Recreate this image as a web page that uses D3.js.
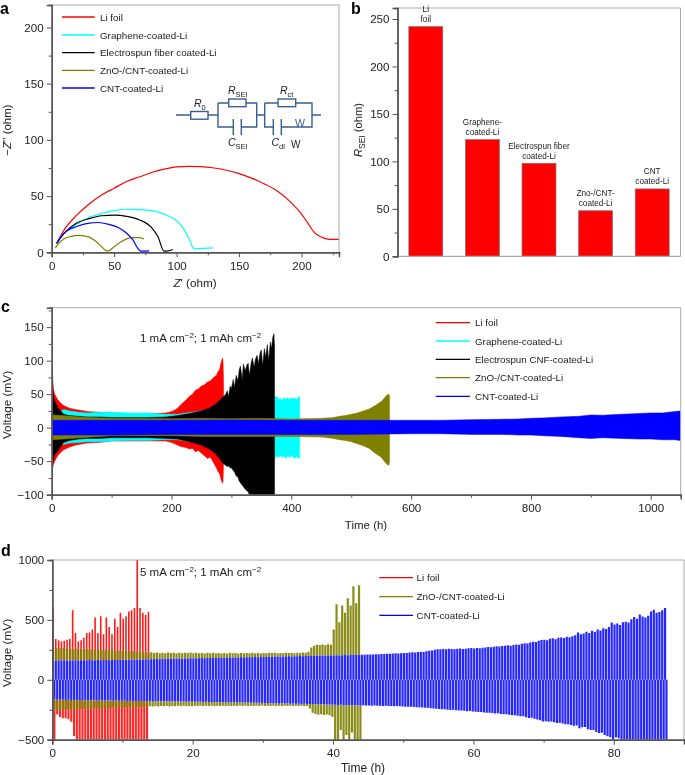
<!DOCTYPE html>
<html><head><meta charset="utf-8">
<script src="https://cdn.jsdelivr.net/npm/d3@7/dist/d3.min.js"></script>
<style>
html,body{margin:0;padding:0;background:#fff;}
svg{display:block;filter:blur(0.3px);}
text{font-family:"Liberation Sans",Arial,sans-serif;fill:#222;}
</style></head><body>
<svg id="chart" width="685" height="775"></svg>
<script>
// ---------- panel a: Nyquist curves [Z', -Z''] ----------
const liFoilZ=[[4,8],[10,20],[20,33],[30,43],[40,51],[50,57],[60,63],[70,67],[80,71],[90,74],[100,76],[110,76.5],[120,76.3],[130,75],[140,73],[150,70],[160,66],[170,61],[180,55],[190,46],[200,34],[205,26],[210,18],[215,14],[220,12],[225,11.5],[230,11.5]];
const grapheneZ=[[4,8],[10,17],[20,25],[30,31],[40,34.5],[50,37],[60,38.3],[70,38],[80,37],[90,34],[100,28],[105,22],[110,12],[114,3],[120,3.5],[129,4]];
const fiberZ=[[4,8],[10,17],[20,26],[30,30],[40,32.5],[50,33],[60,32],[70,29],[80,22],[85,14],[90,1],[92,1],[97,2.5]];
const znoZ=[[3,4],[5,7],[10,12],[15,14],[22,15],[30,13.5],[35,10],[40,5],[44,1.3],[46,1.5],[50,5],[55,9],[60,12],[65,13],[70,13],[74,11.8]];
const cntZ=[[4,8],[10,17],[20,23],[30,26],[37,26.5],[45,25],[55,21],[60,17],[65,11],[70,2],[71.5,1],[78,1.2]];
const legendA=["Li foil","Graphene-coated-Li","Electrospun fiber coated-Li","ZnO-/CNT-coated-Li","CNT-coated-Li"];
// ---------- panel b ----------
const barLabels=[["Li","foil"],["Graphene-","coated-Li"],["Electrospun fiber","coated-Li"],["Zno-/CNT-","coated-Li"],["CNT","coated-Li"]];
const barValues=[242,123,98,48,71];
// ---------- panel c: voltage envelopes ----------
const liTimeC=[0,1,3,5,10,15,20,30,40,60,80,100,130,150,170,190,200,205,210,215,220,225,230,235,240,245,250,255,260,265,270,275,278,280,283,285,286,287];
const liUpC=[60,82,58,50,42,37,33,29,27,24,23,22,21,20,21,22,24,26,29,34,38,42,47,50,56,58,62,64,68,70,75,78,84,86,98,104,100,60];
const liLowC=[-45,-62,-55,-50,-42,-37,-33,-29,-26,-23,-22,-20,-20,-20,-20,-20,-22,-24,-26,-28,-29,-30,-32,-31,-36,-34,-38,-42,-46,-44,-52,-60,-66,-68,-78,-83,-80,-50];
const graTimeC=[15,20,30,45,60,80,100,130,160,190,210,372,373,376,379,382,385,388,391,394,397,400,403,406,409,412,414];
const graUpC=[24,27,25,23,22,23,23,22,22,20,20,40,46,46,42,44,41,45,42,45,42,45,43,44,42,46,46];
const graLowC=[-24,-25,-23,-22,-21,-21,-20,-19,-19,-18,-18,-40,-46,-42,-45,-41,-44,-43,-46,-42,-45,-41,-44,-46,-43,-46,-45];
const fibTimeC=[0,1,3,5,10,15,20,30,45,60,80,100,130,160,190,210,230,250,265,275,285,290,293,295,298,300,303,305,308,311,313,315,318,320,323,326,328,330,333,335,338,340,343,345,348,350,352,355,357,360,362,365,367,369,371,372];
const fibUpC=[40,65,46,40,30,25,20,18,17,16,16,15,15,15,16,18,21,25,30,36,45,49,55,46,62,58,72,60,78,70,86,92,72,95,85,94,96,78,97,104,90,102,108,95,112,116,92,118,105,124,100,128,118,135,140,120];
const fibLowC=[-30,-56,-46,-40,-35,-28,-22,-19,-17,-16,-16,-15,-15,-15,-16,-17,-21,-26,-33,-40,-52,-56,-58,-57,-60,-60,-64,-66,-72,-74,-80,-82,-86,-88,-92,-94,-96,-100,-100,-100,-100,-100,-100,-100,-100,-100,-100,-100,-100,-100,-100,-100,-100,-100,-100,-100];
const znoTimeC=[0,20,50,100,150,200,250,300,350,400,450,470,480,490,500,510,520,530,540,550,555,560,563,564];
const znoUpC=[19,18,16,14,14,13.5,14,13.5,14,13,14,15,17,18,20,22,25,28,33,39,44,49,50,46];
const znoLowC=[-18,-17,-15,-12,-12,-12,-13,-13,-13,-13,-14,-16,-18,-19,-21,-24,-27,-31,-38,-44,-50,-55,-56,-50];
const cntTimeC=[0,100,200,300,400,500,600,650,700,750,780,800,820,850,880,900,920,950,980,1000,1020,1040,1048,1050];
const cntUpC=[11,11,11,11.5,11,11,11,11,12,12.5,13,14,14.5,16,17,19,18.5,20,21,22,22,24,25,24];
const cntLowC=[-11,-11,-10,-10,-10,-10,-9,-9,-10,-10,-11,-11,-12,-13,-15,-16,-15,-16,-17,-17,-18,-18,-19,-18];
const legendC=["Li foil","Graphene-coated-Li","Electrospun CNF-coated-Li","ZnO-/CNT-coated-Li","CNT-coated-Li"];
// ---------- panel d: per-cycle peak voltages (one value per 0.4 h cycle) ----------
const cyclePeriodD=0.4;
const liUpD=[610,340,330,320,325,335,340,580,390,320,330,350,390,395,420,520,390,530,380,520,440,380,510,440,560,510,530,570,580,600,1000,600,560,540,565];
const liLowD=[-500,-290,-310,-320,-320,-330,-350,-470,-500,-500,-500,-500,-500,-500,-500,-500,-500,-500,-500,-500,-500,-500,-500,-500,-500,-500,-500,-500,-500,-500,-500,-500,-500,-500];
const znoUpD=[268,265,268,262,266,260,263,258,262,256,258,255,258,252,254,250,252,248,250,246,248,244,246,242,244,240,241,238,240,235,237,232,234,
228,225,230,224,228,222,226,222,228,224,226,222,225,221,226,223,227,222,225,221,224,220,226,222,225,221,224,220,223,220,225,222,224,220,223,219,224,221,225,222,224,220,223,221,226,223,225,221,224,222,226,223,225,222,226,224,228,225,
235,270,285,292,290,295,288,296,292,420,630,480,620,560,680,620,780,640,790];
const znoLowD=[-255,-250,-255,-248,-252,-246,-250,-244,-248,-243,-246,-240,-244,-238,-242,-236,-240,-235,-238,-233,-236,-232,-234,-230,-232,-229,-231,-227,-229,-225,-227,-223,-224,
-222,-220,-223,-219,-222,-218,-221,-218,-222,-219,-221,-217,-220,-217,-221,-218,-220,-216,-219,-217,-220,-216,-219,-217,-220,-216,-218,-216,-219,-216,-218,-216,-219,-215,-218,-216,-218,-216,-219,-217,-218,-215,-218,-216,-219,-217,-219,-216,-218,-216,-219,-217,-219,-216,-219,-217,-220,-218,
-240,-275,-285,-292,-288,-294,-290,-295,-310,-500,-500,-420,-500,-460,-500,-440,-500,-500,-500];
const cntUpD=[160,161,162,161,163,162,161,163,164,162,163,164,163,165,164,163,165,164,166,165,164,166,165,166,167,
166,167,168,167,169,168,170,169,171,170,172,171,173,172,174,173,175,174,176,175,177,176,178,177,179,
178,180,179,181,180,182,181,183,182,184,183,185,184,186,185,187,186,188,187,189,188,189,190,189,191,
190,192,191,193,192,194,193,195,194,196,195,197,196,198,197,199,198,200,199,201,200,202,201,202,203,
202,204,203,205,206,205,207,208,207,209,210,209,211,212,211,213,214,216,215,217,218,219,221,220,222,
224,223,227,229,228,232,234,233,238,242,245,250,254,256,258,255,260,257,256,259,262,258,260,263,265,
262,266,264,268,270,274,272,276,280,278,282,285,288,284,290,295,293,300,306,303,312,318,315,325,332,
335,330,342,346,338,350,354,348,360,356,364,372,395,380,386,402,390,410,398,420,412,430,425,440,478,
462,470,458,480,485,478,505,525,510,545,528,520,535,570,585,560,565,580,600];
const cntLowD=[-165,-166,-167,-166,-168,-167,-168,-169,-168,-170,-169,-170,-171,-170,-171,-172,-171,-172,-173,-172,-173,-174,-173,-174,-175,
-175,-176,-175,-176,-177,-176,-177,-178,-177,-178,-179,-178,-179,-180,-179,-180,-181,-180,-181,-182,-181,-182,-183,-182,-183,
-184,-183,-184,-185,-184,-185,-186,-185,-186,-187,-186,-187,-188,-187,-188,-189,-188,-189,-190,-189,-190,-191,-192,-192,-193,
-194,-195,-194,-196,-195,-197,-196,-198,-197,-199,-198,-200,-199,-201,-200,-202,-201,-203,-202,-204,-203,-205,-206,-207,-209,
-208,-210,-209,-211,-210,-212,-211,-213,-212,-214,-213,-215,-214,-216,-215,-217,-216,-218,-217,-219,-218,-220,-219,-221,-223,
-224,-226,-225,-228,-230,-229,-232,-234,-233,-237,-239,-241,-244,-246,-245,-249,-252,-251,-255,-257,-256,-259,-262,-261,-265,
-266,-269,-268,-272,-275,-274,-278,-281,-280,-285,-288,-287,-292,-296,-295,-301,-305,-304,-312,-318,-316,-325,-332,-338,-348,
-345,-350,-348,-355,-360,-358,-365,-372,-370,-378,-384,-382,-404,-396,-394,-412,-420,-418,-435,-445,-442,-460,-472,-480,-496,
-480,-488,-500,-500,-500,-500,-500,-500,-500,-500,-500,-500,-500,-500,-500,-500,-500,-500,-500];
const legendD=["Li foil","ZnO-/CNT-coated-Li","CNT-coated-Li"];

const RED="#ff0000",CYAN="#00ffff",BLACK="#000000",OLIVE="#808000",BLUE="#0000ff",INK="#555",FRAME="#aaa",WIRE="#3a5f8f";
const TICKFS=11.6;
const svg=d3.select("#chart");

function axes(x,y,xMaj,xMin,yMaj,yMin){
  const [x0,x1]=x.range(),[y0,y1]=y.range();
  svg.append("path").attr("d",`M${x0},${y1}H${x1}V${y0}`).attr("fill","none").attr("stroke",FRAME).attr("stroke-width",1);
  if(xMaj){
    const a=svg.append("g").attr("transform",`translate(0,${y0})`).call(d3.axisBottom(x).tickValues(xMaj).tickSize(5).tickPadding(4).tickFormat(d3.format("d")));
    const m=svg.append("g").attr("transform",`translate(0,${y0})`).call(d3.axisBottom(x).tickValues(xMin).tickSize(3).tickFormat(""));
    [a,m].forEach(g=>{g.select(".domain").attr("stroke",INK).attr("stroke-width",1.4);g.selectAll("line").attr("stroke",INK);});
    a.selectAll("text").attr("font-size",TICKFS).attr("fill","#222").attr("font-family",'"Liberation Sans"');
  } else {
    svg.append("line").attr("x1",x0).attr("x2",x1).attr("y1",y0).attr("y2",y0).attr("stroke",FRAME).attr("stroke-width",1.2);
  }
  const b=svg.append("g").attr("transform",`translate(${x0},0)`).call(d3.axisLeft(y).tickValues(yMaj).tickSize(5).tickPadding(3).tickFormat(d3.format("d")));
  const n=svg.append("g").attr("transform",`translate(${x0},0)`).call(d3.axisLeft(y).tickValues(yMin).tickSize(3).tickFormat(""));
  [b,n].forEach(g=>{g.select(".domain").attr("stroke",INK).attr("stroke-width",1.4);g.selectAll("line").attr("stroke",INK);});
  b.selectAll("text").attr("font-size",TICKFS).attr("fill","#222").attr("font-family",'"Liberation Sans"');
}
function clip(id,x,y){
  svg.append("clipPath").attr("id",id).append("rect").attr("x",x.range()[0]).attr("y",y.range()[1]).attr("width",x.range()[1]-x.range()[0]).attr("height",y.range()[0]-y.range()[1]);
}
function panelLetter(s,px,py){svg.append("text").attr("x",px).attr("y",py).attr("font-size",16).attr("font-weight","bold").style("fill","#000").text(s);}
function legend(names,colors,x1,x2,tx,ys){
  names.forEach((n,i)=>{
    svg.append("line").attr("x1",x1).attr("x2",x2).attr("y1",ys[i]).attr("y2",ys[i]).attr("stroke",colors[i]).attr("stroke-width",1.3);
    svg.append("text").attr("x",tx).attr("y",ys[i]+3.6).attr("font-size",9.8).text(n);
  });
}
function runs(sel,parts){parts.forEach(p=>{
  const t=sel.append("tspan").text(p.t);
  if(p.i)t.attr("font-style","italic");
  if(p.fs)t.attr("font-size",p.fs);
  if(p.dy)t.attr("dy",p.dy);
});}
function rich(px,py,fs,parts,anchor="start",rot=0){
  const s=svg.append("text").attr("font-size",fs).attr("text-anchor",anchor).attr("transform",`translate(${px},${py}) rotate(${rot})`);
  runs(s,parts);return s;
}

// ===== a =====
{
  const x=d3.scaleLinear([0,230],[51.7,339]), y=d3.scaleLinear([0,220],[252.3,5]);
  clip("ca",x,y);
  const line=d3.line().x(d=>x(d[0])).y(d=>y(d[1])).curve(d3.curveMonotoneX);
  const g=svg.append("g").attr("clip-path","url(#ca)").attr("fill","none").attr("stroke-width",1.2);
  [[liFoilZ,RED],[grapheneZ,CYAN],[fiberZ,BLACK],[znoZ,OLIVE],[cntZ,BLUE]].forEach(([d,c])=>g.append("path").attr("d",line(d)).attr("stroke",c));
  axes(x,y,[0,50,100,150,200],[25,75,125,175,225],[0,50,100,150,200],[25,75,125,175]);
  legend(legendA,[RED,CYAN,BLACK,OLIVE,BLUE],62,94.7,100,[17,35,52.7,70.3,88]);
  rich(195,287,11.7,[{t:"Z",i:1},{t:"' (ohm)"}],"middle");
  rich(11,130,11.5,[{t:"−"},{t:"Z",i:1},{t:"'' (ohm)"}],"middle",-90);
  panelLetter("a",0,14);
  // equivalent-circuit inset
  const w=svg.append("g").attr("fill","none").attr("stroke",WIRE).attr("stroke-width",1.4);
  w.append("path").attr("d","M176,115H190.7M208,115H218M218,103V127H233.3M241.3,127H256.7V103H246M228.7,103H218M256.7,115H264.7M264.7,103V127H273.3M281.3,127H312V103H295.7M278,103H264.7M312,115H321M233.3,119V135M241.3,119V135M273.3,119V135M281.3,119V135");
  [[190.7,111.5,17.3,7.7],[228.7,99,17.3,7.7],[278,99,17.7,7.7]].forEach(r=>w.append("rect").attr("x",r[0]).attr("y",r[1]).attr("width",r[2]).attr("height",r[3]));
  svg.append("text").attr("x",295).attr("y",127).attr("font-size",10.5).style("fill",WIRE).text("W");
  rich(194,107,10.5,[{t:"R",i:1},{t:"0",fs:7.5,dy:2.5}]);
  rich(228,94,10.5,[{t:"R",i:1},{t:"SEI",fs:7.5,dy:2.5}]);
  rich(280,94,10.5,[{t:"R",i:1},{t:"ct",fs:7.5,dy:2.5}]);
  rich(228,146,10.5,[{t:"C",i:1},{t:"SEI",fs:7.5,dy:2.5}]);
  rich(271.5,146,10.5,[{t:"C",i:1},{t:"dl",fs:7.5,dy:2.5}]);
  rich(291,148,10,[{t:"W"}]);
}
// ===== b =====
{
  const x=d3.scaleBand(d3.range(barValues.length),[397.5,680.5]).paddingInner(0.4).paddingOuter(0.2);
  const y=d3.scaleLinear([0,261.6],[256.3,8]);
  svg.append("g").selectAll("rect").data(barValues).join("rect")
    .attr("x",(d,i)=>x(i)).attr("width",x.bandwidth()).attr("y",d=>y(d)).attr("height",d=>y(0)-y(d))
    .attr("fill",RED).attr("stroke","#777").attr("stroke-width",0.7);
  axes(x,y,null,null,[0,50,100,150,200,250],[25,75,125,175,225]);
  barLabels.forEach((ls,i)=>{
    const cx=x(i)+x.bandwidth()/2, top=y(barValues[i]);
    ls.forEach((l,j)=>svg.append("text").attr("x",cx).attr("y",top-(ls.length-j-1)*10-4.7).attr("text-anchor","middle").attr("font-size",8.2).text(l));
  });
  rich(362,130,11.2,[{t:"R",i:1},{t:"SEI",fs:8.5,dy:2.5},{t:" (ohm)",dy:-2.5}],"middle",-90);
  panelLetter("b",351,14);
}
// ===== c =====
{
  const x=d3.scaleLinear([0,1050],[51.7,680.7]), y=d3.scaleLinear([-100,179],[494.7,307.7]);
  clip("cc",x,y);
  const g=svg.append("g").attr("clip-path","url(#cc)");
  const band=(ts,up,lo,c)=>g.append("path").attr("fill",c).attr("stroke",c).attr("stroke-width",0.5)
    .attr("d",d3.area().x((d,i)=>x(ts[i])).y0((d,i)=>y(lo[i])).y1((d,i)=>y(up[i]))(ts));
  band(liTimeC,liUpC,liLowC,RED);
  band(graTimeC,graUpC,graLowC,CYAN);
  band(fibTimeC,fibUpC,fibLowC,BLACK);
  band(znoTimeC,znoUpC,znoLowC,OLIVE);
  band(cntTimeC,cntUpC,cntLowC,BLUE);
  axes(x,y,[0,200,400,600,800,1000],[100,300,500,700,900],[-100,-50,0,50,100,150],[-75,-25,25,75,125,175]);
  legend(legendC,[RED,CYAN,BLACK,OLIVE,BLUE],435.7,470,475,[322.7,341,359.3,377.7,396.3]);
  rich(366,529,11.5,[{t:"Time (h)"}],"middle");
  rich(11,405,11.8,[{t:"Voltage (mV)"}],"middle",-90);
  rich(140,341.7,11.5,[{t:"1 mA cm"},{t:"−2",fs:8,dy:-4},{t:"; 1 mAh cm",dy:4},{t:"−2",fs:8,dy:-4}]);
  panelLetter("c",1,312);
}
// ===== d =====
{
  const x=d3.scaleLinear([0,90],[52.3,684]), y=d3.scaleLinear([-500,1000],[739.7,560]);
  clip("cd",x,y);
  const g=svg.append("g").attr("clip-path","url(#cd)");
  const tUp=i=>0.1+i*cyclePeriodD, tLow=i=>0.3+i*cyclePeriodD;
  const bars=(vals,tf,c,w,o)=>g.append("g").selectAll("line").data(vals).join("line")
    .attr("x1",(d,i)=>x(tf(i))).attr("x2",(d,i)=>x(tf(i))).attr("y1",y(0)).attr("y2",d=>y(d))
    .attr("stroke",c).attr("stroke-width",w).attr("stroke-opacity",o);
  bars(liUpD,tUp,RED,1.6,.9); bars(liLowD,tLow,RED,2.1,.85);
  bars(znoUpD,tUp,OLIVE,2.2,.9); bars(znoLowD,tLow,OLIVE,2.2,.9);
  // mask the blue band, then blue bars
  const n=Math.min(cntUpD.length,cntLowD.length);
  g.append("path").attr("fill","#fff").attr("d",d3.area().x((d,i)=>x(tUp(i))).y0((d,i)=>y(cntLowD[i])).y1((d,i)=>y(cntUpD[i]))(d3.range(n)));
  bars(cntUpD,tUp,BLUE,2.2,.85); bars(cntLowD,tLow,BLUE,2.2,.85);
  axes(x,y,[0,20,40,60,80],[10,30,50,70,90],[-500,0,500,1000],[-250,250,750]);
  legend(legendD,[RED,OLIVE,BLUE],379.3,413,416.6,[577.7,596.7,615.3]);
  rich(363,772,12,[{t:"Time (h)"}],"middle");
  rich(11,653,11.8,[{t:"Voltage (mV)"}],"middle",-90);
  rich(140,575.7,11.5,[{t:"5 mA cm"},{t:"−2",fs:8,dy:-4},{t:"; 1 mAh cm",dy:4},{t:"−2",fs:8,dy:-4}]);
  panelLetter("d",1,556);
}
</script>
</body></html>
